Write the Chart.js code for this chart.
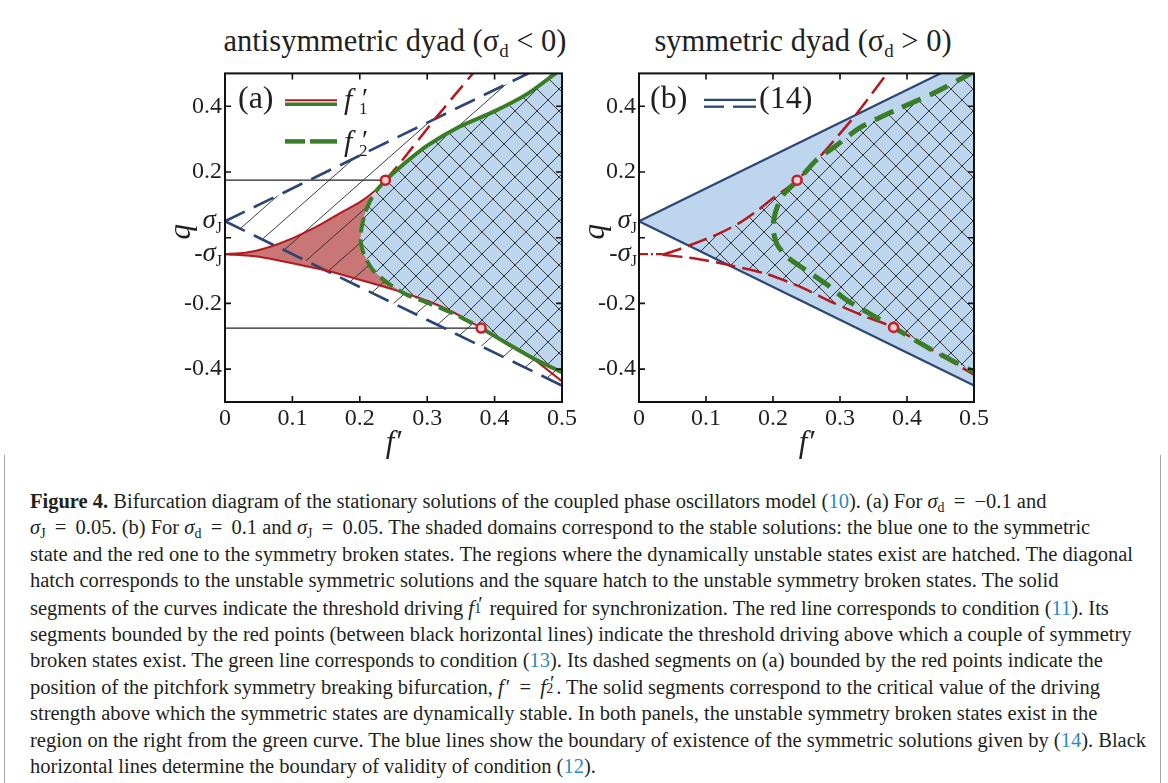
<!DOCTYPE html>
<html lang="en">
<head>
<meta charset="utf-8">
<title>Figure 4</title>
<script src="https://cdn.jsdelivr.net/npm/chart.js@4.4.1/dist/chart.umd.min.js"></script>
<style>
  html, body { margin: 0; padding: 0; background: #fff; }
  body { width: 1168px; height: 783px; position: relative; overflow: hidden;
         font-family: 'Liberation Serif', 'Times New Roman', serif; color: #231f20; }
  canvas { position: absolute; }
  .frame { position: absolute; top: 455px; bottom: 0; width: 0; border-left: 1.5px solid #a4a4a4; }
  .ptitle { position: absolute; top: 26px; font-size: 30.5px; line-height: 1; white-space: nowrap; transform: translateX(-50%); }
  .ptitle sub { font-size: 0.62em; vertical-align: -0.3em; line-height: 0; }
  #caption { position: absolute; left: 30px; top: 488px; font-size: 20.5px; line-height: 26.4px; }
  #caption div { white-space: nowrap; }
  #caption sub { font-size: 0.68em; vertical-align: -0.28em; line-height: 0; }
  .eq { margin: 0 0.45em; }
  .ref { color: #2b8ac6; }
  .pm { margin-left: 0.1em; }
  .pr { display: inline-block; position: relative; width: 0.5em; height: 1em; }
  .pr .p { position: absolute; left: 0.2em; top: 0; line-height: 1; }
  .pr .s { position: absolute; left: 0.02em; top: 0.62em; font-size: 0.68em; line-height: 1; }
</style>
</head>
<body>

<div class="frame" style="left:4px"></div>
<div class="frame" style="left:1160px"></div>

<div class="ptitle" style="left:395px">antisymmetric dyad (σ<sub>d</sub> &lt; 0)</div>
<div class="ptitle" style="left:803px">symmetric dyad (σ<sub>d</sub> &gt; 0)</div>

<canvas id="chartA" width="450" height="410" style="left:130px;top:56px"></canvas>
<canvas id="chartB" width="450" height="410" style="left:544px;top:56px"></canvas>

<div id="caption">
  <div><b>Figure 4.</b> Bifurcation diagram of the stationary solutions of the coupled phase oscillators model (<span class="ref">10</span>). (a) For <i>σ</i><sub>d</sub><span class="eq">=</span>−0.1 and</div>
  <div><i>σ</i><sub>J</sub><span class="eq">=</span>0.05. (b) For <i>σ</i><sub>d</sub><span class="eq">=</span>0.1 and <i>σ</i><sub>J</sub><span class="eq">=</span>0.05. The shaded domains correspond to the stable solutions: the blue one to the symmetric</div>
  <div>state and the red one to the symmetry broken states. The regions where the dynamically unstable states exist are hatched. The diagonal</div>
  <div>hatch corresponds to the unstable symmetric solutions and the square hatch to the unstable symmetry broken states. The solid</div>
  <div>segments of the curves indicate the threshold driving <i>f</i><span class="pr"><span class="p">′</span><span class="s">1</span></span> required for synchronization. The red line corresponds to condition (<span class="ref">11</span>). Its</div>
  <div>segments bounded by the red points (between black horizontal lines) indicate the threshold driving above which a couple of symmetry</div>
  <div>broken states exist. The green line corresponds to condition (<span class="ref">13</span>). Its dashed segments on (a) bounded by the red points indicate the</div>
  <div>position of the pitchfork symmetry breaking bifurcation, <i>f</i><span class="pm">′</span><span class="eq">=</span><i>f</i><span class="pr"><span class="p">′</span><span class="s">2</span></span>. The solid segments correspond to the critical value of the driving</div>
  <div>strength above which the symmetric states are dynamically stable. In both panels, the unstable symmetry broken states exist in the</div>
  <div>region on the right from the green curve. The blue lines show the boundary of existence of the symmetric solutions given by (<span class="ref">14</span>). Black</div>
  <div>horizontal lines determine the boundary of validity of condition (<span class="ref">12</span>).</div>
</div>

<script>
/* --- Axes --- */
const xTickVals = [0, 0.1, 0.2, 0.3, 0.4, 0.5];
const xTickText = ['0', '0.1', '0.2', '0.3', '0.4', '0.5'];
const yTickVals = [-0.4, -0.2, -0.05, 0, 0.05, 0.2, 0.4];
const yTickText = ['-0.4', '-0.2', '', '', '', '0.2', '0.4'];   // ±σJ drawn separately (subscript)
const xMarkVals = [0.1, 0.2, 0.3, 0.4];
const yMarkVals = [-0.4, -0.2, 0, 0.2, 0.4];
const sigmaJ = 0.05;

/* --- (a) antisymmetric dyad: sigma_d = -0.1 --- */
const aBlueUpper = [[0, 0.05], [0.5, 0.55]];
const aBlueLower = [[0, 0.05], [0.5, -0.45]];
const aRedUpper = [[0, -0.05], [0.03, -0.046], [0.06, -0.032], [0.1, -0.002], [0.14, 0.038],
                   [0.17, 0.074], [0.2, 0.108], [0.22, 0.138], [0.238, 0.175]];
const aRedDashed = [[0.238, 0.175], [0.26, 0.228], [0.315, 0.37], [0.37, 0.505]];
const aRedLower = [[0, -0.05], [0.05, -0.058], [0.1, -0.078], [0.15, -0.1], [0.2, -0.128],
                   [0.25, -0.158], [0.3, -0.192], [0.34, -0.228], [0.38, -0.275], [0.45, -0.358], [0.5, -0.437]];
const aGreenTop = [[0.497, 0.51], [0.448, 0.437], [0.398, 0.383], [0.349, 0.339], [0.3, 0.28],
                   [0.264, 0.222], [0.238, 0.175]];
const aGreenMid = [[0.238, 0.175], [0.22, 0.13], [0.207, 0.07], [0.201, 0.0], [0.206, -0.05],
                   [0.22, -0.1], [0.243, -0.14], [0.27, -0.174], [0.3, -0.198], [0.34, -0.232], [0.38, -0.275]];
const aGreenLow = [[0.38, -0.275], [0.423, -0.327], [0.46, -0.37], [0.5, -0.41]];
const aRedTip = [0.288, -0.186];
const aHLineTop = [[0, 0.175], [0.238, 0.175]];
const aHLineLow = [[0, -0.275], [0.38, -0.275]];
const aRedPoints = [[0.238, 0.175], [0.38, -0.275]];

/* --- (b) symmetric dyad: sigma_d = 0.1 --- */
const bBlueUpper = [[0, 0.05], [0.5, 0.55]];
const bBlueLower = [[0, 0.05], [0.5, -0.45]];
const bGreen = [[0.5, 0.505], [0.44, 0.44], [0.385, 0.39], [0.33, 0.335], [0.294, 0.28], [0.264, 0.235],
                [0.24, 0.18], [0.215, 0.13], [0.204, 0.08], [0.2, 0.03], [0.206, -0.02], [0.222, -0.06],
                [0.25, -0.1], [0.28, -0.142], [0.31, -0.19], [0.345, -0.232], [0.38, -0.273],
                [0.434, -0.338], [0.5, -0.408]];
const bRedStem = [[0, -0.05], [0.035, -0.05]];
const bRedUpper = [[0.035, -0.052], [0.06, -0.035], [0.09, -0.012], [0.12, 0.013], [0.15, 0.045],
                   [0.175, 0.08], [0.2, 0.12], [0.236, 0.175], [0.275, 0.258], [0.325, 0.378], [0.372, 0.505]];
const bRedLower = [[0.035, -0.052], [0.086, -0.064], [0.136, -0.084], [0.19, -0.11], [0.24, -0.149],
                   [0.29, -0.198], [0.335, -0.238], [0.38, -0.273], [0.44, -0.345], [0.5, -0.417]];
const bHatchStart = [0.072, -0.022];
const bHatchEnd = [0.13, -0.08];
const bRedPoints = [[0.236, 0.175], [0.38, -0.273]];

/* --- Styles --- */
const SERIF = "'Liberation Serif', 'Times New Roman', serif";
const INK = '#231f20';
const RED = '#b3191f';
const GREEN = '#3a7d27';
const NAVY = '#2c4677';
const BLUE_FILL = '#bdd6ee';
const RED_FILL = '#c97676';
const HATCH = '#262626';

Chart.defaults.font.family = SERIF;
Chart.defaults.color = INK;

const xy = arr => arr.map(([x, y]) => ({ x, y }));

// square (45 degree) cross hatch, optional background
function crossPattern(ctx, bg, s) {
    const tile = document.createElement('canvas');
    tile.width = tile.height = s;
    const g = tile.getContext('2d');
    if (bg) { g.fillStyle = bg; g.fillRect(0, 0, s, s); }
    g.strokeStyle = HATCH;
    g.lineWidth = 0.9;
    g.beginPath();
    for (const d of [-s, 0, s]) {
        g.moveTo(d, 0); g.lineTo(d + s, s);
        g.moveTo(d + s, 0); g.lineTo(d, s);
    }
    g.stroke();
    return ctx.createPattern(tile, 'repeat');
}

// single diagonal hatch rising to the right
function diagPattern(ctx, w, h) {
    const tile = document.createElement('canvas');
    tile.width = w; tile.height = h;
    const g = tile.getContext('2d');
    g.strokeStyle = HATCH;
    g.lineWidth = 0.9;
    g.beginPath();
    for (const d of [-w, 0, w]) { g.moveTo(d, h); g.lineTo(d + w, 0); }
    g.stroke();
    return ctx.createPattern(tile, 'repeat');
}

function curve(data, color, width, dash, order, tension = 0.25) {
    return { data: xy(data), showLine: true, borderColor: color, borderWidth: width,
             borderDash: dash, borderCapStyle: 'butt', pointRadius: 0, fill: false, tension, order };
}

function region(data, fillStyle, order) {
    return { data: xy(data), showLine: true, borderWidth: 0, borderColor: 'rgba(0,0,0,0)',
             backgroundColor: fillStyle, fill: 'shape', pointRadius: 0, tension: 0, order };
}

function dots(data, order) {
    return { data: xy(data), showLine: false, pointRadius: 4.5, pointBackgroundColor: '#f3d0d0',
             pointBorderColor: '#c1242b', pointBorderWidth: 2.6, order };
}

function hline(ctx, x0, x1, y, color, width, dash) {
    ctx.save();
    ctx.strokeStyle = color; ctx.lineWidth = width; ctx.setLineDash(dash || []);
    ctx.beginPath(); ctx.moveTo(x0, y); ctx.lineTo(x1, y); ctx.stroke();
    ctx.restore();
}

// italic f with prime and subscript
function fPrime(ctx, x, base, sub) {
    ctx.font = `italic 30px ${SERIF}`;
    ctx.fillText('f', x, base);
    ctx.font = `28px ${SERIF}`;
    ctx.fillText('′', x + 18, base - 2);
    ctx.font = `17px ${SERIF}`;
    ctx.fillText(sub, x + 15, base + 5);
}

function sigmaLabel(ctx, right, yPix, minus) {
    const base = yPix + 7;
    ctx.font = `16px ${SERIF}`;
    const wJ = ctx.measureText('J').width;
    ctx.fillText('J', right - wJ, base + 5);
    ctx.font = `italic 27px ${SERIF}`;
    const wS = ctx.measureText('σ').width;
    const xs = right - wJ - wS;
    ctx.fillText('σ', xs, base);
    if (minus) {
        ctx.font = `25px ${SERIF}`;
        ctx.fillText('-', xs - ctx.measureText('-').width, base);
    }
}

/* --- Frame, inward ticks, σJ labels and axis titles --- */
const framePlugin = {
    id: 'frame',
    afterDatasetsDraw(chart, args, opts) {
        const { ctx, chartArea: ca, scales: { x, y } } = chart;
        const T = 6;
        ctx.save();
        ctx.strokeStyle = '#111';
        ctx.lineWidth = 2;
        ctx.strokeRect(ca.left, ca.top, ca.right - ca.left, ca.bottom - ca.top);
        ctx.lineWidth = 1.6;
        ctx.beginPath();
        xMarkVals.forEach(v => {
            const p = x.getPixelForValue(v);
            ctx.moveTo(p, ca.bottom); ctx.lineTo(p, ca.bottom - T);
            ctx.moveTo(p, ca.top); ctx.lineTo(p, ca.top + T);
        });
        yMarkVals.forEach(v => {
            const p = y.getPixelForValue(v);
            ctx.moveTo(ca.left, p); ctx.lineTo(ca.left + T, p);
            ctx.moveTo(ca.right, p); ctx.lineTo(ca.right - T, p);
        });
        ctx.stroke();

        ctx.fillStyle = INK;
        ctx.textAlign = 'left';
        ctx.textBaseline = 'alphabetic';
        sigmaLabel(ctx, ca.left - opts.sigmaGap, y.getPixelForValue(sigmaJ), false);
        sigmaLabel(ctx, ca.left - opts.sigmaGap, y.getPixelForValue(-sigmaJ), true);

        // q, rotated as a y-axis title
        ctx.save();
        ctx.translate(ca.left + opts.qOffset, y.getPixelForValue(0) - 6);
        ctx.rotate(-Math.PI / 2);
        ctx.font = `italic 31px ${SERIF}`;
        ctx.textAlign = 'center';
        ctx.fillText('q', 0, 3.5);
        ctx.restore();

        ctx.font = `italic 31px ${SERIF}`;
        ctx.textAlign = 'center';
        ctx.fillText('f′', (ca.left + ca.right) / 2, ca.bottom + 50);
        ctx.restore();
    }
};

const legendA = {
    id: 'legendA',
    afterDatasetsDraw(chart) {
        const { ctx, chartArea: { left: L, top: T } } = chart;
        ctx.save();
        ctx.fillStyle = INK;
        ctx.textAlign = 'left';
        ctx.textBaseline = 'alphabetic';
        ctx.font = `32px ${SERIF}`;
        ctx.fillText('(a)', L + 13, T + 35);
        hline(ctx, L + 60, L + 112, T + 26.8, RED, 2);
        hline(ctx, L + 60, L + 112, T + 30.8, GREEN, 3.6);
        fPrime(ctx, L + 119, T + 36, '1');
        hline(ctx, L + 60, L + 80, T + 68, GREEN, 4.5);
        hline(ctx, L + 85, L + 112, T + 68, GREEN, 4.5);
        fPrime(ctx, L + 119, T + 78, '2');
        ctx.restore();
    }
};

const legendB = {
    id: 'legendB',
    afterDatasetsDraw(chart) {
        const { ctx, chartArea: { left: L, top: T } } = chart;
        ctx.save();
        ctx.fillStyle = INK;
        ctx.textAlign = 'left';
        ctx.textBaseline = 'alphabetic';
        ctx.font = `32px ${SERIF}`;
        ctx.fillText('(b)', L + 11, T + 35);
        hline(ctx, L + 65, L + 117, T + 26.5, NAVY, 2.3);
        hline(ctx, L + 65, L + 85, T + 33.3, NAVY, 2.3);
        hline(ctx, L + 94, L + 117, T + 33.3, NAVY, 2.3);
        ctx.fillText('(14)', L + 120, T + 35);
        ctx.restore();
    }
};

function panelConfig(datasets, legend, padRight, frameOpts) {
    return {
        type: 'scatter',
        data: { datasets },
        options: {
            responsive: false,
            animation: false,
            events: [],
            layout: { padding: { top: 9, right: padRight, left: 0, bottom: 0 } },
            plugins: { legend: { display: false }, tooltip: { enabled: false }, frame: frameOpts },
            scales: {
                x: {
                    type: 'linear', min: 0, max: 0.5,
                    afterBuildTicks: s => { s.ticks = xTickVals.map(value => ({ value })); },
                    afterFit: s => { s.height = 64; },
                    grid: { display: false, drawTicks: false },
                    border: { display: false },
                    ticks: { autoSkip: false, maxRotation: 0, padding: 2, color: INK,
                             font: { size: 24 }, callback: (v, i) => xTickText[i] }
                },
                y: {
                    type: 'linear', min: -0.5, max: 0.5,
                    afterBuildTicks: s => { s.ticks = yTickVals.map(value => ({ value })); },
                    afterFit: s => { s.width = 95; },
                    grid: { display: false, drawTicks: false },
                    border: { display: false },
                    ticks: { autoSkip: false, padding: 3, color: INK,
                             font: { size: 24 }, callback: (v, i) => yTickText[i] }
                }
            }
        },
        plugins: [framePlugin, legend]
    };
}

/* --- Panel (a) --- */
const ctxA = document.getElementById('chartA').getContext('2d');
const aBlueRegion = [...aGreenTop, ...aGreenMid.slice(1), ...aGreenLow.slice(1), [0.6, -0.6], [0.6, 0.6], [0.497, 0.6]];
const aDiagRegion = [...aBlueUpper, ...aGreenTop, ...aGreenMid.slice(1), ...aGreenLow.slice(1), aBlueLower[1]];
const aRedRegion = [...aRedUpper.slice(0, 7), ...aGreenMid.slice(1, 8), aRedTip, ...aRedLower.slice(1, 6).reverse()];

new Chart(ctxA, panelConfig([
    region(aBlueRegion, crossPattern(ctxA, BLUE_FILL, 22), 20),
    region(aRedRegion, RED_FILL, 19),
    region(aDiagRegion, diagPattern(ctxA, 34, 30), 18),
    curve(aHLineTop, INK, 1.3, [], 15, 0),
    curve(aHLineLow, INK, 1.3, [], 15, 0),
    curve(aBlueUpper, NAVY, 2.7, [22, 10], 14, 0),
    curve(aBlueLower, NAVY, 2.7, [22, 10], 14, 0),
    curve(aRedUpper, RED, 2, [], 12),
    curve(aRedLower, RED, 2, [], 12),
    curve(aRedDashed, RED, 2.5, [18, 8], 12),
    curve(aGreenTop, GREEN, 4, [], 10),
    curve(aGreenMid, GREEN, 4, [15, 7], 10),
    curve(aGreenLow, GREEN, 4, [], 10),
    dots(aRedPoints, 1)
], legendA, 18, { sigmaGap: 3, qOffset: -38.5 }));

/* --- Panel (b) --- */
const ctxB = document.getElementById('chartB').getContext('2d');
const bWedge = [...bBlueUpper, [0.6, 0.55], [0.6, -0.55], bBlueLower[1]];
const bHatchRegion = [bHatchStart, ...bRedUpper.slice(2, 8), ...bGreen.slice(0, 7).reverse(), [0.6, 0.6], [0.6, -0.6],
                      ...bGreen.slice(16).reverse(), ...bRedLower.slice(2, 7).reverse(), bHatchEnd];

new Chart(ctxB, panelConfig([
    region(bWedge, BLUE_FILL, 20),
    region(bHatchRegion, crossPattern(ctxB, null, 22), 19),
    curve(bBlueUpper, NAVY, 2.2, [], 14, 0),
    curve(bBlueLower, NAVY, 2.2, [], 14, 0),
    curve(bRedStem, RED, 2.2, [9, 3, 2, 3], 12, 0),
    curve(bRedUpper, RED, 2.5, [20, 7], 12),
    curve(bRedLower, RED, 2.5, [20, 7], 12),
    curve(bGreen, GREEN, 5, [20, 10], 10),
    dots(bRedPoints, 1)
], legendB, 20, { sigmaGap: 2, qOffset: -39 }));
</script>
</body>
</html>
